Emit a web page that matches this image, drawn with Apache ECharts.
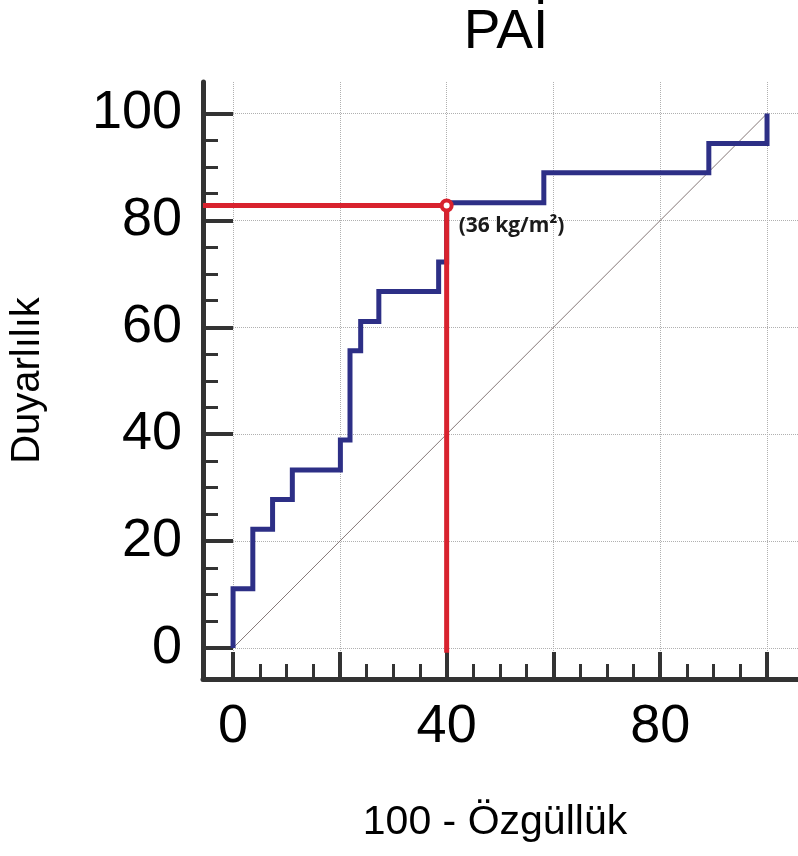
<!DOCTYPE html>
<html><head><meta charset="utf-8">
<script src="https://cdn.jsdelivr.net/npm/echarts@6/dist/echarts.min.js"></script>
<style>html,body{margin:0;padding:0;background:#fff}#chart{width:798px;height:856px}</style>
</head><body><div id="chart"></div>
<script>
const titleText = 'PAİ';
const xAxisName = '100 - Özgüllük';
const yAxisName = 'Duyarlılık';
const xMajorTicks = [0, 20, 40, 60, 80, 100];
const xMinorTicks = [5, 10, 15, 25, 30, 35, 45, 50, 55, 65, 70, 75, 85, 90, 95];
const xTickLabels = [0, 40, 80];
const yMajorTicks = [0, 20, 40, 60, 80, 100];
const yMinorTicks = [5, 10, 15, 25, 30, 35, 45, 50, 55, 65, 70, 75, 85, 90, 95];
const yTickLabels = [0, 20, 40, 60, 80, 100];
const xRange = [-5.63, 105.8];
const yRange = [-5.8, 105.9];

// ROC step curve (100 - specificity, sensitivity)
const rocFpr  = [0, 0, 3.7, 3.7, 7.4, 7.4, 11.1, 11.1, 20.1, 20.1, 21.9, 21.9, 23.9, 23.9, 27.3, 27.3, 38.5, 38.5, 40, 40, 58.2, 58.2, 89.1, 89.1, 100, 100];
const rocSens = [0, 11.1, 11.1, 22.2, 22.2, 27.8, 27.8, 33.3, 33.3, 38.9, 38.9, 55.6, 55.6, 61.1, 61.1, 66.7, 66.7, 72.2, 72.2, 83.3, 83.3, 88.9, 88.9, 94.4, 94.4, 100];
// reference diagonal
const refX = [0, 100];
const refY = [0, 100];
// cut-off guide lines and point
const cutLineX = [-5.63, 40, 40];
const cutLineY = [82.8, 82.8, -0.9];
const cutPointX = 40;
const cutPointY = 82.8;
const cutLabel = '(36 kg/m²)';

const FONT = 'Liberation Sans, Arial, sans-serif';
const AXIS_COLOR = '#333333';
const zip = (a, b) => a.map((v, i) => [v, b[i]]);

const chart = echarts.init(document.getElementById('chart'), null, {renderer: 'canvas'});
chart.setOption({
  backgroundColor: '#ffffff',
  animation: false,
  title: {
    text: titleText, left: 506, top: 5, padding: 0, textAlign: 'center',
    textStyle: {fontFamily: FONT, fontSize: 55, fontWeight: 'normal', color: '#000'}
  },
  grid: {left: 203, right: 0, top: 82, bottom: 177, containLabel: false},
  xAxis: [{
    type: 'value', position: 'bottom', min: xRange[0], max: xRange[1],
    name: xAxisName, nameLocation: 'middle', nameGap: 123,
    nameTextStyle: {fontFamily: FONT, fontSize: 41, color: '#000', padding: [0, 11, 0, 0]},
    axisLine: {show: true, onZero: false, lineStyle: {color: AXIS_COLOR, width: 5}},
    axisTick: {show: true, inside: true, length: 27, customValues: xMajorTicks, lineStyle: {color: AXIS_COLOR, width: 4}},
    axisLabel: {show: true, customValues: xTickLabels, margin: 21, fontFamily: FONT, fontSize: 54, color: '#000'},
    splitLine: {show: true, lineStyle: {type: 'dotted', color: '#b0b0b0', width: 1}}
  }, {
    type: 'value', position: 'bottom', min: xRange[0], max: xRange[1],
    axisLine: {show: false, onZero: false},
    axisTick: {show: true, inside: true, length: 15, customValues: xMinorTicks, lineStyle: {color: AXIS_COLOR, width: 3}},
    axisLabel: {show: false},
    splitLine: {show: false}
  }],
  yAxis: [{
    type: 'value', position: 'left', min: yRange[0], max: yRange[1],
    name: yAxisName, nameLocation: 'middle', nameGap: 155,
    nameTextStyle: {fontFamily: FONT, fontSize: 40, color: '#000'},
    axisLine: {show: true, onZero: false, lineStyle: {color: AXIS_COLOR, width: 5}},
    axisTick: {show: true, inside: true, length: 30, customValues: yMajorTicks, lineStyle: {color: AXIS_COLOR, width: 4}},
    axisLabel: {show: true, customValues: yTickLabels, margin: 21, fontFamily: FONT, fontSize: 54, color: '#000'},
    splitLine: {show: true, lineStyle: {type: 'dotted', color: '#b0b0b0', width: 1}}
  }, {
    type: 'value', position: 'left', min: yRange[0], max: yRange[1],
    axisLine: {show: false, onZero: false},
    axisTick: {show: true, inside: true, length: 15, customValues: yMinorTicks, lineStyle: {color: AXIS_COLOR, width: 3}},
    axisLabel: {show: false},
    splitLine: {show: false}
  }],
  series: [{
    type: 'line', xAxisIndex: 0, yAxisIndex: 0, data: zip(refX, refY),
    symbol: 'none', silent: true,
    lineStyle: {color: '#857878', width: 1}
  }, {
    type: 'line', xAxisIndex: 0, yAxisIndex: 0, data: zip(rocFpr, rocSens),
    symbol: 'none', silent: true,
    lineStyle: {color: '#2d2f86', width: 5, join: 'miter', cap: 'butt'}
  }, {
    type: 'line', xAxisIndex: 0, yAxisIndex: 0, data: zip(cutLineX, cutLineY),
    symbol: 'none', silent: true,
    lineStyle: {color: '#d8222e', width: 5, join: 'miter', cap: 'butt'}
  }, {
    type: 'scatter', xAxisIndex: 0, yAxisIndex: 0, data: [[cutPointX, cutPointY]],
    symbol: 'circle', symbolSize: 10, silent: true,
    itemStyle: {color: '#ffffff', borderColor: '#d8222e', borderWidth: 4, opacity: 1},
    label: {
      show: true, position: 'right', distance: 5, offset: [0, 21],
      formatter: cutLabel,
      fontFamily: 'Open Sans, sans-serif', fontWeight: 'bold', fontSize: 21, color: '#1a1a1a'
    },
    z: 5
  }]
});
</script></body></html>
